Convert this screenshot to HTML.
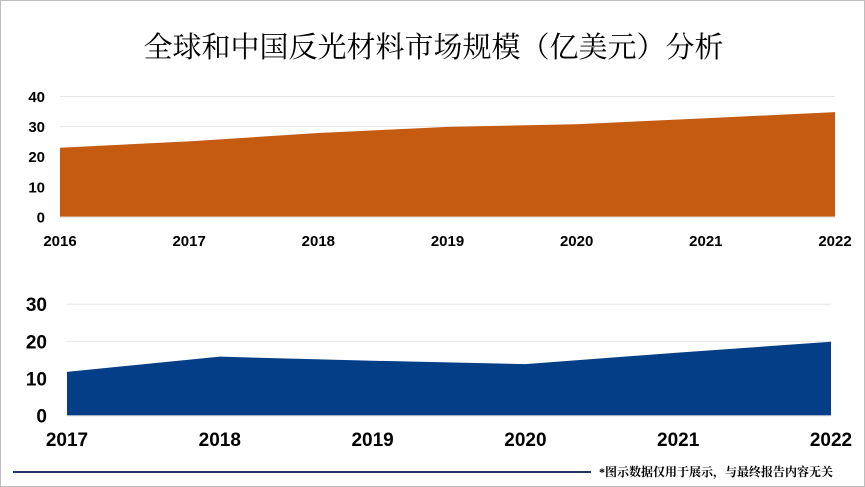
<!DOCTYPE html>
<html><head><meta charset="utf-8"><style>
body{margin:0;background:#fff;}
#wrap{position:relative;width:863px;height:485px;border:1px solid #bdbdbd;overflow:hidden;font-family:"Liberation Sans","Noto Sans CJK SC",sans-serif;}
#title{position:absolute;left:0;width:865px;top:24px;text-align:center;font-size:29px;color:#000;font-family:"Liberation Serif","Noto Serif CJK SC",serif;white-space:nowrap;}
#note{position:absolute;left:598px;top:462px;font-size:12px;font-family:"Liberation Serif","Noto Serif CJK SC",serif;color:#000;white-space:nowrap;font-weight:bold;}
#rule{position:absolute;left:12px;top:470px;width:578px;height:2px;background:#1f3864;}
</style></head><body>
<div id="wrap">
<div id="title">全球和中国反光材料市场规模（亿美元）分析</div>
<svg id="svg" width="865" height="487" style="position:absolute;left:0;top:0"></svg>
<div id="rule"></div>
<div id="note">*图示数据仅用于展示，与最终报告内容无关</div>
</div>
<script>
const globalYears=["2016","2017","2018","2019","2020","2021","2022"];
const globalValues=[23.0,25.1,27.9,29.9,30.8,32.8,34.8];
const globalTicks=[0,10,20,30,40];
const chinaYears=["2017","2018","2019","2020","2021","2022"];
const chinaValues=[11.8,15.9,14.8,13.9,17.0,19.9];
const chinaTicks=[0,10,20,30];
const svg=document.getElementById('svg');
const NS='http://www.w3.org/2000/svg';
function mk(t,a){const e=document.createElementNS(NS,t);for(const k in a)e.setAttribute(k,a[k]);svg.appendChild(e);return e;}
function chart(years,vals,ticks,x0,x1,y0,yTop,max,color,name,tickFs,yearFs,yearY,tickX){
  const sx=i=>x0+(x1-x0)*i/(years.length-1);
  const sy=v=>y0-(y0-yTop)*v/max;
  ticks.forEach(t=>{
    const g=mk('line',{x1:x0,x2:x1,y1:sy(t),y2:sy(t),stroke:'#e6e6e6','stroke-width':1});
    
    
    const tx=mk('text',{x:tickX,y:sy(t)+tickFs*0.36,'text-anchor':'end','font-size':tickFs,'font-weight':'bold','font-family':'Liberation Sans, sans-serif',fill:'#000'});
    tx.textContent=t;
    
    
  });
  let d='M'+sx(0)+','+y0;
  vals.forEach((v,i)=>{d+=' L'+sx(i)+','+sy(v);});
  d+=' L'+sx(vals.length-1)+','+y0+' Z';
  const p=mk('path',{d:d,fill:color});
  
  
  const ax=mk('line',{x1:x0,x2:x1,y1:y0,y2:y0,stroke:'#d9d9d9','stroke-width':1});
  
  
  years.forEach((y,i)=>{
    const tx=mk('text',{x:sx(i),y:yearY,'text-anchor':'middle','font-size':yearFs,'font-weight':'bold','font-family':'Liberation Sans, sans-serif',fill:'#000'});
    tx.textContent=y;
    
    
  });
}
chart(globalYears,globalValues,globalTicks,59,834,216,95.5,40,'#c55a11','global',15,15,245,44);
chart(chinaYears,chinaValues,chinaTicks,66,830,414.7,303.3,30,'#033e87','china',19,19,445,46);
</script>
</body></html>
